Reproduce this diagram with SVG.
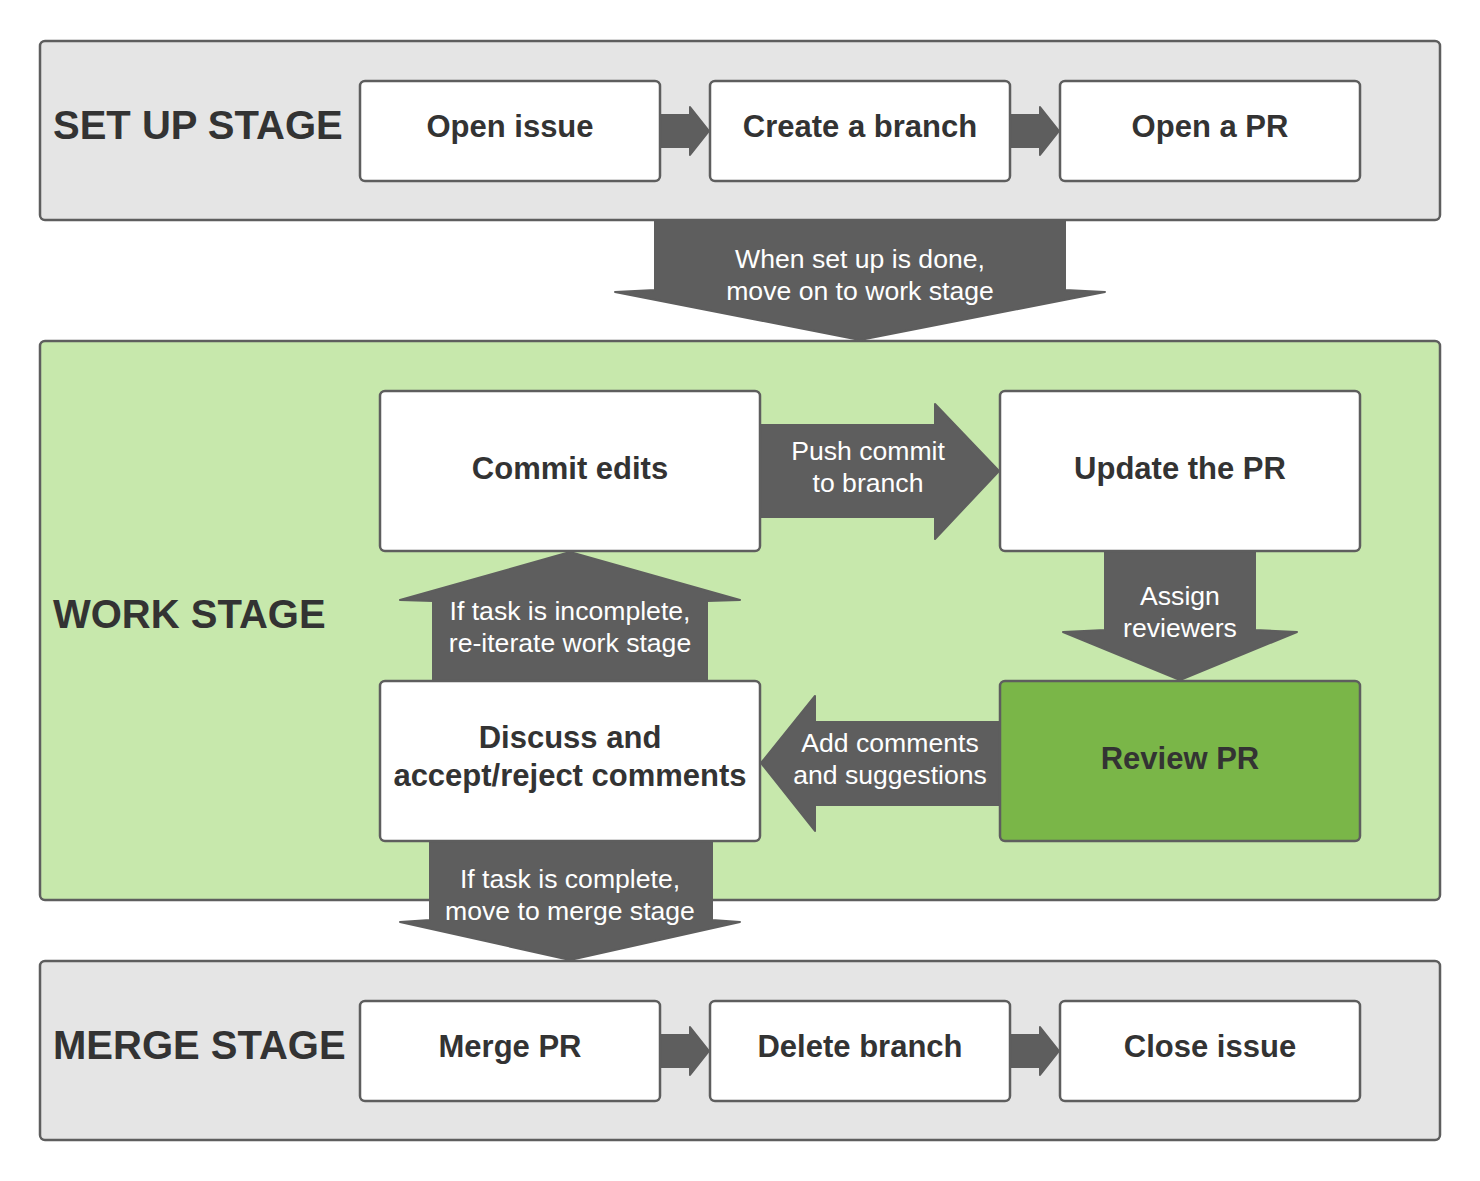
<svg xmlns="http://www.w3.org/2000/svg" width="1480" height="1181" viewBox="0 0 1480 1181">
<style>
.stage{fill:#e5e5e5;stroke:#5e5e5e;stroke-width:2.5}
.work{fill:#c7e8ac;stroke:#5e5e5e;stroke-width:2.5}
.node{fill:#ffffff;stroke:#5e5e5e;stroke-width:2.5}
.green{fill:#7ab648;stroke:#5e5e5e;stroke-width:2.5}
.slabel{font-family:"Liberation Sans",Arial,sans-serif;font-weight:bold;font-size:40px;fill:#333333}
.nlabel{font-family:"Liberation Sans",Arial,sans-serif;font-weight:bold;font-size:31px;fill:#333333;text-anchor:middle}
.alabel{font-family:"Liberation Sans",Arial,sans-serif;font-size:26.6px;fill:#ffffff;text-anchor:middle}
.arrow{fill:#5e5e5e;stroke:#5e5e5e;stroke-width:2;stroke-linejoin:round}
</style>
<rect width="1480" height="1181" fill="#ffffff"/>
<g id="stage-setup">
<rect class="stage" x="40" y="41" width="1400" height="179" rx="5"/>
<text class="slabel" x="53" y="139">SET UP STAGE</text>
</g>
<g id="stage-work">
<rect class="work" x="40" y="341" width="1400" height="559" rx="5"/>
<text class="slabel" x="53" y="628">WORK STAGE</text>
</g>
<g id="stage-merge">
<rect class="stage" x="40" y="961" width="1400" height="179" rx="5"/>
<text class="slabel" x="53" y="1059">MERGE STAGE</text>
</g>
<g id="connectors">
<path class="arrow" d="M660,115 H690 V107 L709,131 L690,155 V147 H660 Z"/>
<path class="arrow" d="M1010,115 H1040 V107 L1059,131 L1040,155 V147 H1010 Z"/>
<path class="arrow" d="M660,1035 H690 V1027 L709,1051 L690,1075 V1067 H660 Z"/>
<path class="arrow" d="M1010,1035 H1040 V1027 L1059,1051 L1040,1075 V1067 H1010 Z"/>
<path class="arrow" d="M655,221 H1065 V290 L1105,292 L860,340 L615,292 L655,290 Z"/>
<path class="arrow" d="M761,425 H935 V404 L999,471 L935,539 V517 H761 Z"/>
<path class="arrow" d="M1105,552 H1255 V630 L1297,632 L1180,680 L1063,632 L1105,630 Z"/>
<path class="arrow" d="M999,722 H815 V696 L761,763 L815,831 V805 H999 Z"/>
<path class="arrow" d="M433,681 V601 L400,600 L570,552 L740,600 L707,601 V681 Z"/>
<path class="arrow" d="M430,842 H712 V920 L740,922 L570,960 L400,922 L430,920 Z"/>
<text class="alabel"><tspan x="860" y="268">When set up is done,</tspan><tspan x="860" y="300">move on to work stage</tspan></text>
<text class="alabel"><tspan x="868" y="460">Push commit</tspan><tspan x="868" y="492">to branch</tspan></text>
<text class="alabel"><tspan x="1180" y="605">Assign</tspan><tspan x="1180" y="637">reviewers</tspan></text>
<text class="alabel"><tspan x="890" y="752">Add comments</tspan><tspan x="890" y="784">and suggestions</tspan></text>
<text class="alabel"><tspan x="570" y="620">If task is incomplete,</tspan><tspan x="570" y="652">re-iterate work stage</tspan></text>
<text class="alabel"><tspan x="570" y="888">If task is complete,</tspan><tspan x="570" y="920">move to merge stage</tspan></text>
</g>
<g id="open-issue">
<rect class="node" x="360" y="81" width="300" height="100" rx="5"/>
<text class="nlabel" x="510" y="137">Open issue</text>
</g>
<g id="create-branch">
<rect class="node" x="710" y="81" width="300" height="100" rx="5"/>
<text class="nlabel" x="860" y="137">Create a branch</text>
</g>
<g id="open-pr">
<rect class="node" x="1060" y="81" width="300" height="100" rx="5"/>
<text class="nlabel" x="1210" y="137">Open a PR</text>
</g>
<g id="commit-edits">
<rect class="node" x="380" y="391" width="380" height="160" rx="5"/>
<text class="nlabel" x="570" y="479">Commit edits</text>
</g>
<g id="update-pr">
<rect class="node" x="1000" y="391" width="360" height="160" rx="5"/>
<text class="nlabel" x="1180" y="479">Update the PR</text>
</g>
<g id="review-pr">
<rect class="green" x="1000" y="681" width="360" height="160" rx="5"/>
<text class="nlabel" x="1180" y="769">Review PR</text>
</g>
<g id="discuss">
<rect class="node" x="380" y="681" width="380" height="160" rx="5"/>
<text class="nlabel"><tspan x="570" y="748">Discuss and</tspan><tspan x="570" y="786">accept/reject comments</tspan></text>
</g>
<g id="merge-pr">
<rect class="node" x="360" y="1001" width="300" height="100" rx="5"/>
<text class="nlabel" x="510" y="1057">Merge PR</text>
</g>
<g id="delete-branch">
<rect class="node" x="710" y="1001" width="300" height="100" rx="5"/>
<text class="nlabel" x="860" y="1057">Delete branch</text>
</g>
<g id="close-issue">
<rect class="node" x="1060" y="1001" width="300" height="100" rx="5"/>
<text class="nlabel" x="1210" y="1057">Close issue</text>
</g>
</svg>
